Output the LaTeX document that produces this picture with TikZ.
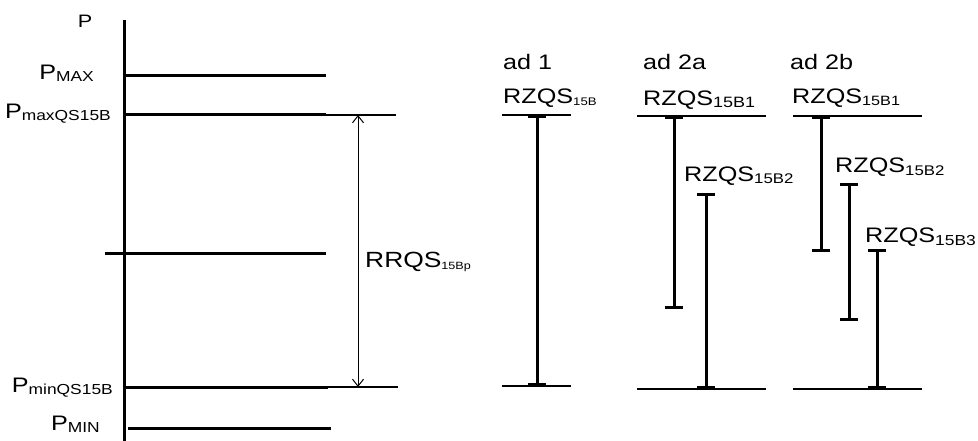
\documentclass[tikz,border=0pt]{standalone}
\usepackage{fontspec}
\setmainfont[FakeStretch=1.2]{Liberation Sans}
\usetikzlibrary{arrows.meta,positioning}
\newcommand{\lowidx}[2][14]{\raisebox{-2pt}{\fontsize{#1}{16}\selectfont #2}}

\begin{document}
\begin{tikzpicture}[x=1pt,y=-1pt,
  lbl/.style={inner sep=0pt,font=\fontsize{21}{25}\selectfont},
  level/.style={line width=3pt},
  thinlevel/.style={line width=1.2pt},
  rangebar/.style={line width=3pt,{Bar[width=18pt]}-{Bar[width=18pt]}},
  spanarrow/.style={line width=1pt,{Straight Barb[length=7pt,width=11pt]}-{Straight Barb[length=7pt,width=11pt]}}]
\useasboundingbox (0,0) rectangle (978,441);

\node[inner sep=0pt,font=\fontsize{18}{20}\selectfont] (P) at (85,21){P};
\node[lbl,anchor=base east] (pmax) at (94,80){P\lowidx[14.5]{MAX}};
\node[lbl,anchor=base east] (pmaxqs) at (111,119){P\lowidx[14.5]{maxQS15B}};
\node[lbl,anchor=base east] (pminqs) at (113,392){P\lowidx[14.5]{minQS15B}};
\node[lbl,anchor=base east] (pmin) at (100,430){P\lowidx[14.5]{MIN}};
\node[lbl,anchor=base west,font=\fontsize{22}{25}\selectfont] (rrqs) at (365,267){RRQS\lowidx[10.5]{15Bp}};

\coordinate (a0) at (124,20);
\coordinate (a1) at (124,441);
\coordinate (l1a) at (124,76);
\coordinate (l1b) at (326,76);
\coordinate (l2a) at (124,115);
\coordinate (l2b) at (326,115);
\coordinate (l2c) at (396,115);
\coordinate (l3a) at (105,253);
\coordinate (l3b) at (326,253);
\coordinate (l4a) at (126,387);
\coordinate (l4b) at (328,387);
\coordinate (l4c) at (398,387);
\coordinate (l5a) at (128,428);
\coordinate (l5b) at (331,428);
\coordinate (s0) at (358,115);
\coordinate (s1) at (358,387);

\draw[level] (a0) -- (a1);
\draw[level] (l1a) -- (l1b);
\draw[level] (l2a) -- (l2b);
\draw[thinlevel] (l2b) -- (l2c);
\draw[level] (l3a) -- (l3b);
\draw[level] (l4a) -- (l4b);
\draw[thinlevel] (l4b) -- (l4c);
\draw[level] (l5a) -- (l5b);
\draw[spanarrow] (s0) -- (s1);

\node[lbl,anchor=base west] (ad1) at (503,70){ad 1};
\node[lbl,anchor=base west] (ad2a) at (643,70){ad 2a};
\node[lbl,anchor=base west] (ad2b) at (790,70){ad 2b};

\node[lbl,anchor=base west] (r1) at (503,104){RZQS\lowidx[11]{15B}};
\node[lbl,anchor=base west] (r2a1) at (643,106){RZQS\lowidx[15]{15B1}};
\node[lbl,anchor=base west] (r2a2) at (684,182){RZQS\lowidx{15B2}};
\node[lbl,anchor=base west] (r2b1) at (792,104){RZQS\lowidx[13.5]{15B1}};
\node[lbl,anchor=base west] (r2b2) at (835,173){RZQS\lowidx{15B2}};
\node[lbl,anchor=base west] (r2b3) at (865,243){RZQS\lowidx[14.5]{15B3}};

\coordinate (t1a) at (502,115);
\coordinate (t1b) at (571,115);
\coordinate (b1a) at (502,386);
\coordinate (b1b) at (571,386);
\coordinate (t2a) at (637,116);
\coordinate (t2b) at (766,116);
\coordinate (b2a) at (637,389);
\coordinate (b2b) at (766,389);
\coordinate (t3a) at (793,116);
\coordinate (t3b) at (922,116);
\coordinate (b3a) at (793,389);
\coordinate (b3b) at (922,389);

\coordinate (q1) at (537,115);
\coordinate (q1e) at (537,386);
\coordinate (q2) at (674,116);
\coordinate (q2e) at (674,309);
\coordinate (q3) at (706,193);
\coordinate (q3e) at (706,389);
\coordinate (q4) at (821,116);
\coordinate (q4e) at (821,252);
\coordinate (q5) at (849,183);
\coordinate (q5e) at (849,321);
\coordinate (q6) at (877,249);
\coordinate (q6e) at (877,389);

\draw[thinlevel] (t1a) -- (t1b);
\draw[thinlevel] (b1a) -- (b1b);
\draw[thinlevel] (t2a) -- (t2b);
\draw[thinlevel] (b2a) -- (b2b);
\draw[thinlevel] (t3a) -- (t3b);
\draw[thinlevel] (b3a) -- (b3b);
\draw[rangebar] (q1) -- (q1e);
\draw[rangebar] (q2) -- (q2e);
\draw[rangebar] (q3) -- (q3e);
\draw[rangebar] (q4) -- (q4e);
\draw[rangebar] (q5) -- (q5e);
\draw[rangebar] (q6) -- (q6e);

\end{tikzpicture}
\end{document}
